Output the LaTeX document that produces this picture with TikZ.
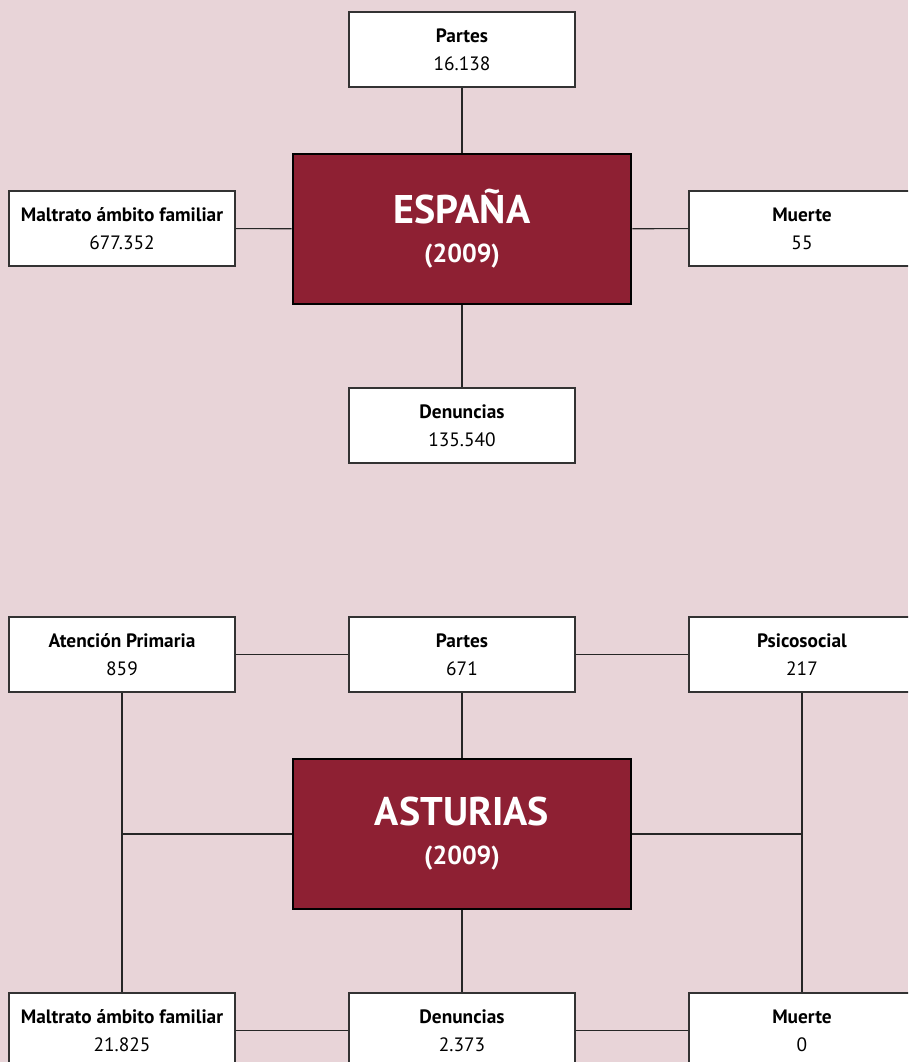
\documentclass[tikz,border=0pt]{standalone}
\usepackage{fontspec}
\setmainfont{PT Sans}
\usepackage{tikz}
\definecolor{fondo}{HTML}{E8D4D8}
\definecolor{granate}{HTML}{8E2033}
\tikzset{
	dato/.style={draw=black!80, fill=white, line width=0.8pt, minimum width=169.5pt, minimum height=56.25pt, align=center, inner sep=0pt, font=\fontsize{14.5}{21}\selectfont},
	region/.style={draw=black, fill=granate, line width=2.2pt, minimum width=253.5pt, minimum height=112.5pt, align=center, text=white, inner sep=0pt},
	linea/.style={draw=black!85, line width=0.8pt}
}
\newcommand{\dato}[4]{
	\node[dato] (#1) at (#2) {\textbf{#3}\\#4};
}
\newcommand{\titulo}[1]{\fontsize{30}{30}\selectfont\textbf{#1}\\[14pt]\fontsize{19.5}{21}\selectfont\textbf{(2009)}}

\begin{document}
\begin{tikzpicture}[x=0.75pt,y=-0.75pt]
	\useasboundingbox[fill=fondo] (0,0) rectangle (908,1062);
	\clip (0,0) rectangle (908,1062);

	% Espana
	\dato{Pa}{462,49.5}{Partes}{16.138}
	\dato{Ma}{122,228.5}{Maltrato ámbito familiar}{677.352}
	\dato{Mu}{802,228.5}{Muerte}{55}
	\dato{De}{462,425.5}{Denuncias}{135.540}
	\node[region] (Es) at (462,229) {\titulo{ESPAÑA}};

	\draw[linea] (Pa) -- (Es) -- (De);
	\draw[linea] (Ma) -- (Es) -- (Mu);

	% Asturias
	\dato{APa}{462,654.5}{Partes}{671}
	\dato{AAt}{122,654.5}{Atención Primaria}{859}
	\dato{APs}{802,654.5}{Psicosocial}{217}
	\dato{AMa}{122,1030.5}{Maltrato ámbito familiar}{21.825}
	\dato{ADe}{462,1030.5}{Denuncias}{2.373}
	\dato{AMu}{802,1030.5}{Muerte}{0}
	\node[region] (As) at (462,834) {\titulo{ASTURIAS}};
	\coordinate (Iz) at (122,834);
	\coordinate (De2) at (802,834);

	\draw[linea] (AAt) -- (APa) -- (APs);
	\draw[linea] (AMa) -- (ADe) -- (AMu);
	\draw[linea] (APa) -- (As) -- (ADe);
	\draw[linea] (AAt) -- (AMa);
	\draw[linea] (APs) -- (AMu);
	\draw[linea] (Iz) -- (As.west);
	\draw[linea] (As.east) -- (De2);
\end{tikzpicture}
\end{document}
